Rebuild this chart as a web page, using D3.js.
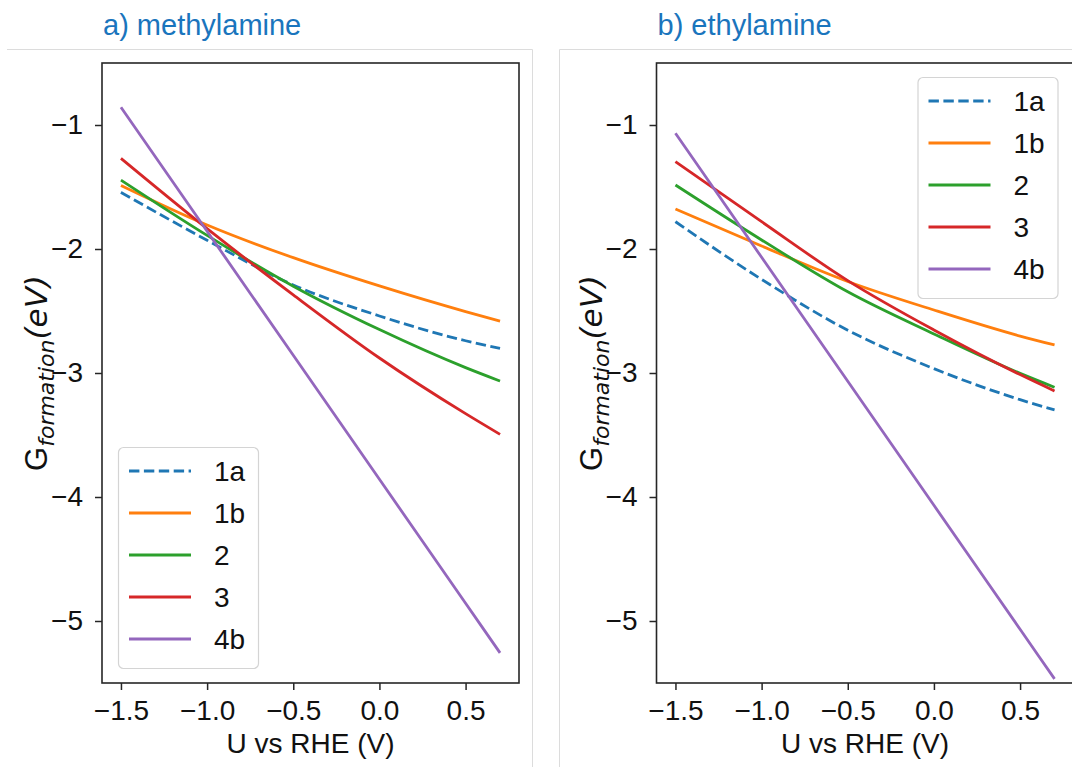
<!DOCTYPE html>
<html>
<head>
<meta charset="utf-8">
<script src="https://cdn.jsdelivr.net/npm/d3@7"></script>
<style>
  html, body { margin: 0; padding: 0; background: #ffffff; }
  svg { display: block; font-family: "Liberation Sans", Arial, sans-serif; }
</style>
</head>
<body>
<svg id="chart" width="1072" height="767"></svg>
<script>
// Applied potential (V vs RHE) at which each formation energy was evaluated
const voltages = [-1.5, -1.0, -0.5, 0.0, 0.5, 0.7];

// Species labels and their line colours / styles
const speciesNames = ["1a", "1b", "2", "3", "4b"];
const speciesColors = ["#1f77b4", "#ff7f0e", "#2ca02c", "#d62728", "#9467bd"];
const speciesDashed = [true, false, false, false, false];

// Formation free energies (eV), methylamine
const methyl1a = [-1.543, -1.930, -2.290, -2.540, -2.740, -2.801];
const methyl1b = [-1.487, -1.806, -2.070, -2.298, -2.505, -2.581];
const methyl2  = [-1.444, -1.890, -2.300, -2.650, -2.957, -3.065];
const methyl3  = [-1.269, -1.836, -2.370, -2.879, -3.328, -3.495];
const methyl4b = [-0.857, -1.857, -2.857, -3.857, -4.857, -5.257];

// Formation free energies (eV), ethylamine
const ethyl1a = [-1.780, -2.245, -2.655, -2.965, -3.215, -3.298];
const ethyl1b = [-1.677, -1.976, -2.262, -2.492, -2.702, -2.774];
const ethyl2  = [-1.484, -1.927, -2.345, -2.685, -3.003, -3.115];
const ethyl3  = [-1.296, -1.780, -2.255, -2.653, -3.013, -3.145];
const ethyl4b = [-1.067, -2.067, -3.067, -4.067, -5.067, -5.467];

// Axis ticks
const xTicks = [-1.5, -1.0, -0.5, 0.0, 0.5];
const yTicks = [-1, -2, -3, -4, -5];

const panels = [
  { title: "a) methylamine", series: [methyl1a, methyl1b, methyl2, methyl3, methyl4b],
    left: 102, legend: "lower-left",
    frame: { x0: 7, x1: 532.5, side: "right" } },
  { title: "b) ethylamine", series: [ethyl1a, ethyl1b, ethyl2, ethyl3, ethyl4b],
    left: 656.5, legend: "upper-right",
    frame: { x0: 559.5, x1: 1072, side: "left" } }
];

const svg = d3.select("#chart");
const plotW = 417, plotTop = 63, plotBottom = 683;
const FONT = 28;
const minus = s => s.replace("-", "\u2212");

panels.forEach(p => {
  const g = svg.append("g");

  // light panel frame
  const fr = p.frame;
  g.append("line").attr("x1", fr.x0).attr("x2", fr.x1).attr("y1", 49.5).attr("y2", 49.5)
    .attr("stroke", "#dcdcdc").attr("stroke-width", 1);
  const vx = fr.side === "right" ? fr.x1 : fr.x0;
  g.append("line").attr("x1", vx).attr("x2", vx).attr("y1", 49.5).attr("y2", 767)
    .attr("stroke", "#dcdcdc").attr("stroke-width", 1);

  // panel heading
  g.append("text").attr("x", p.left + 1).attr("y", 35)
    .attr("fill", "#1a75bd").attr("font-size", 29).text(p.title);

  const x = d3.scaleLinear().domain([-1.61, 0.81]).range([p.left, p.left + plotW]);
  const y = d3.scaleLinear().domain([-5.5, -0.5]).range([plotBottom, plotTop]);

  // clip region for the data lines
  const clipId = "clip" + Math.round(p.left);
  svg.append("clipPath").attr("id", clipId).append("rect")
    .attr("x", p.left).attr("y", plotTop).attr("width", plotW).attr("height", plotBottom - plotTop);

  const line = d3.line()
    .x((d, i) => x(voltages[i]))
    .y(d => y(d))
    .curve(d3.curveMonotoneX);

  const lines = g.append("g").attr("clip-path", `url(#${clipId})`);
  p.series.forEach((vals, k) => {
    lines.append("path")
      .datum(vals)
      .attr("d", line)
      .attr("fill", "none")
      .attr("stroke", speciesColors[k])
      .attr("stroke-width", 2.8)
      .attr("stroke-dasharray", speciesDashed[k] ? "10.4,4.5" : null);
  });

  // axes
  const xAxis = d3.axisBottom(x).tickValues(xTicks).tickSizeInner(7).tickSizeOuter(0)
    .tickPadding(10).tickFormat(d => minus(d3.format(".1f")(d)));
  const yAxis = d3.axisLeft(y).tickValues(yTicks).tickSizeInner(7).tickSizeOuter(0)
    .tickPadding(12).tickFormat(d => minus(d3.format("d")(d)));

  const gx = g.append("g").attr("transform", `translate(0,${plotBottom})`).call(xAxis);
  const gy = g.append("g").attr("transform", `translate(${p.left},0)`).call(yAxis);
  [gx, gy].forEach(a => {
    a.select(".domain").remove();
    a.selectAll(".tick line").attr("stroke", "#262626").attr("stroke-width", 1.5);
    a.selectAll(".tick text").attr("font-size", FONT).attr("fill", "#111")
      .attr("font-family", "Liberation Sans, Arial, sans-serif");
  });

  // plot frame
  g.append("rect").attr("x", p.left).attr("y", plotTop).attr("width", plotW).attr("height", plotBottom - plotTop)
    .attr("fill", "none").attr("stroke", "#262626").attr("stroke-width", 1.6);

  // axis titles
  g.append("text").attr("x", p.left + plotW / 2).attr("y", 753)
    .attr("text-anchor", "middle").attr("font-size", FONT).attr("fill", "#111")
    .text("U vs RHE (V)");

  const yl = g.append("text")
    .attr("transform", `translate(${p.left - 55},${(plotTop + plotBottom) / 2}) rotate(-90)`)
    .attr("text-anchor", "middle").attr("font-size", 31).attr("fill", "#111");
  yl.append("tspan").text("G");
  yl.append("tspan").attr("font-style", "italic").attr("font-family", "DejaVu Sans, sans-serif")
    .attr("font-size", 22).attr("dy", 7).text("formation");
  yl.append("tspan").attr("font-style", "italic").attr("font-family", "DejaVu Sans, sans-serif")
    .attr("dy", -7).text("(eV)");

  // legend
  const lw = 140, lh = 221, rowH = 42;
  const lx = p.legend === "lower-left" ? p.left + 16 : p.left + plotW - 16 - lw;
  const ly = p.legend === "lower-left" ? plotBottom - 15 - lh : plotTop + 14;
  const lg = g.append("g").attr("transform", `translate(${lx},${ly})`);
  lg.append("rect").attr("x", 0.5).attr("y", 0.5).attr("width", lw).attr("height", lh)
    .attr("rx", 5).attr("fill", "#ffffff").attr("fill-opacity", 0.85)
    .attr("stroke", "#d4d4d4").attr("stroke-width", 1.2);
  speciesNames.forEach((name, k) => {
    const cy = 24 + k * rowH;
    lg.append("line").attr("x1", 11).attr("x2", 73).attr("y1", cy).attr("y2", cy)
      .attr("stroke", speciesColors[k]).attr("stroke-width", 2.8)
      .attr("stroke-dasharray", speciesDashed[k] ? "10.4,4.5" : null);
    lg.append("text").attr("x", 96).attr("y", cy + 10)
      .attr("font-size", FONT).attr("fill", "#111").text(name);
  });
});
</script>
</body>
</html>
